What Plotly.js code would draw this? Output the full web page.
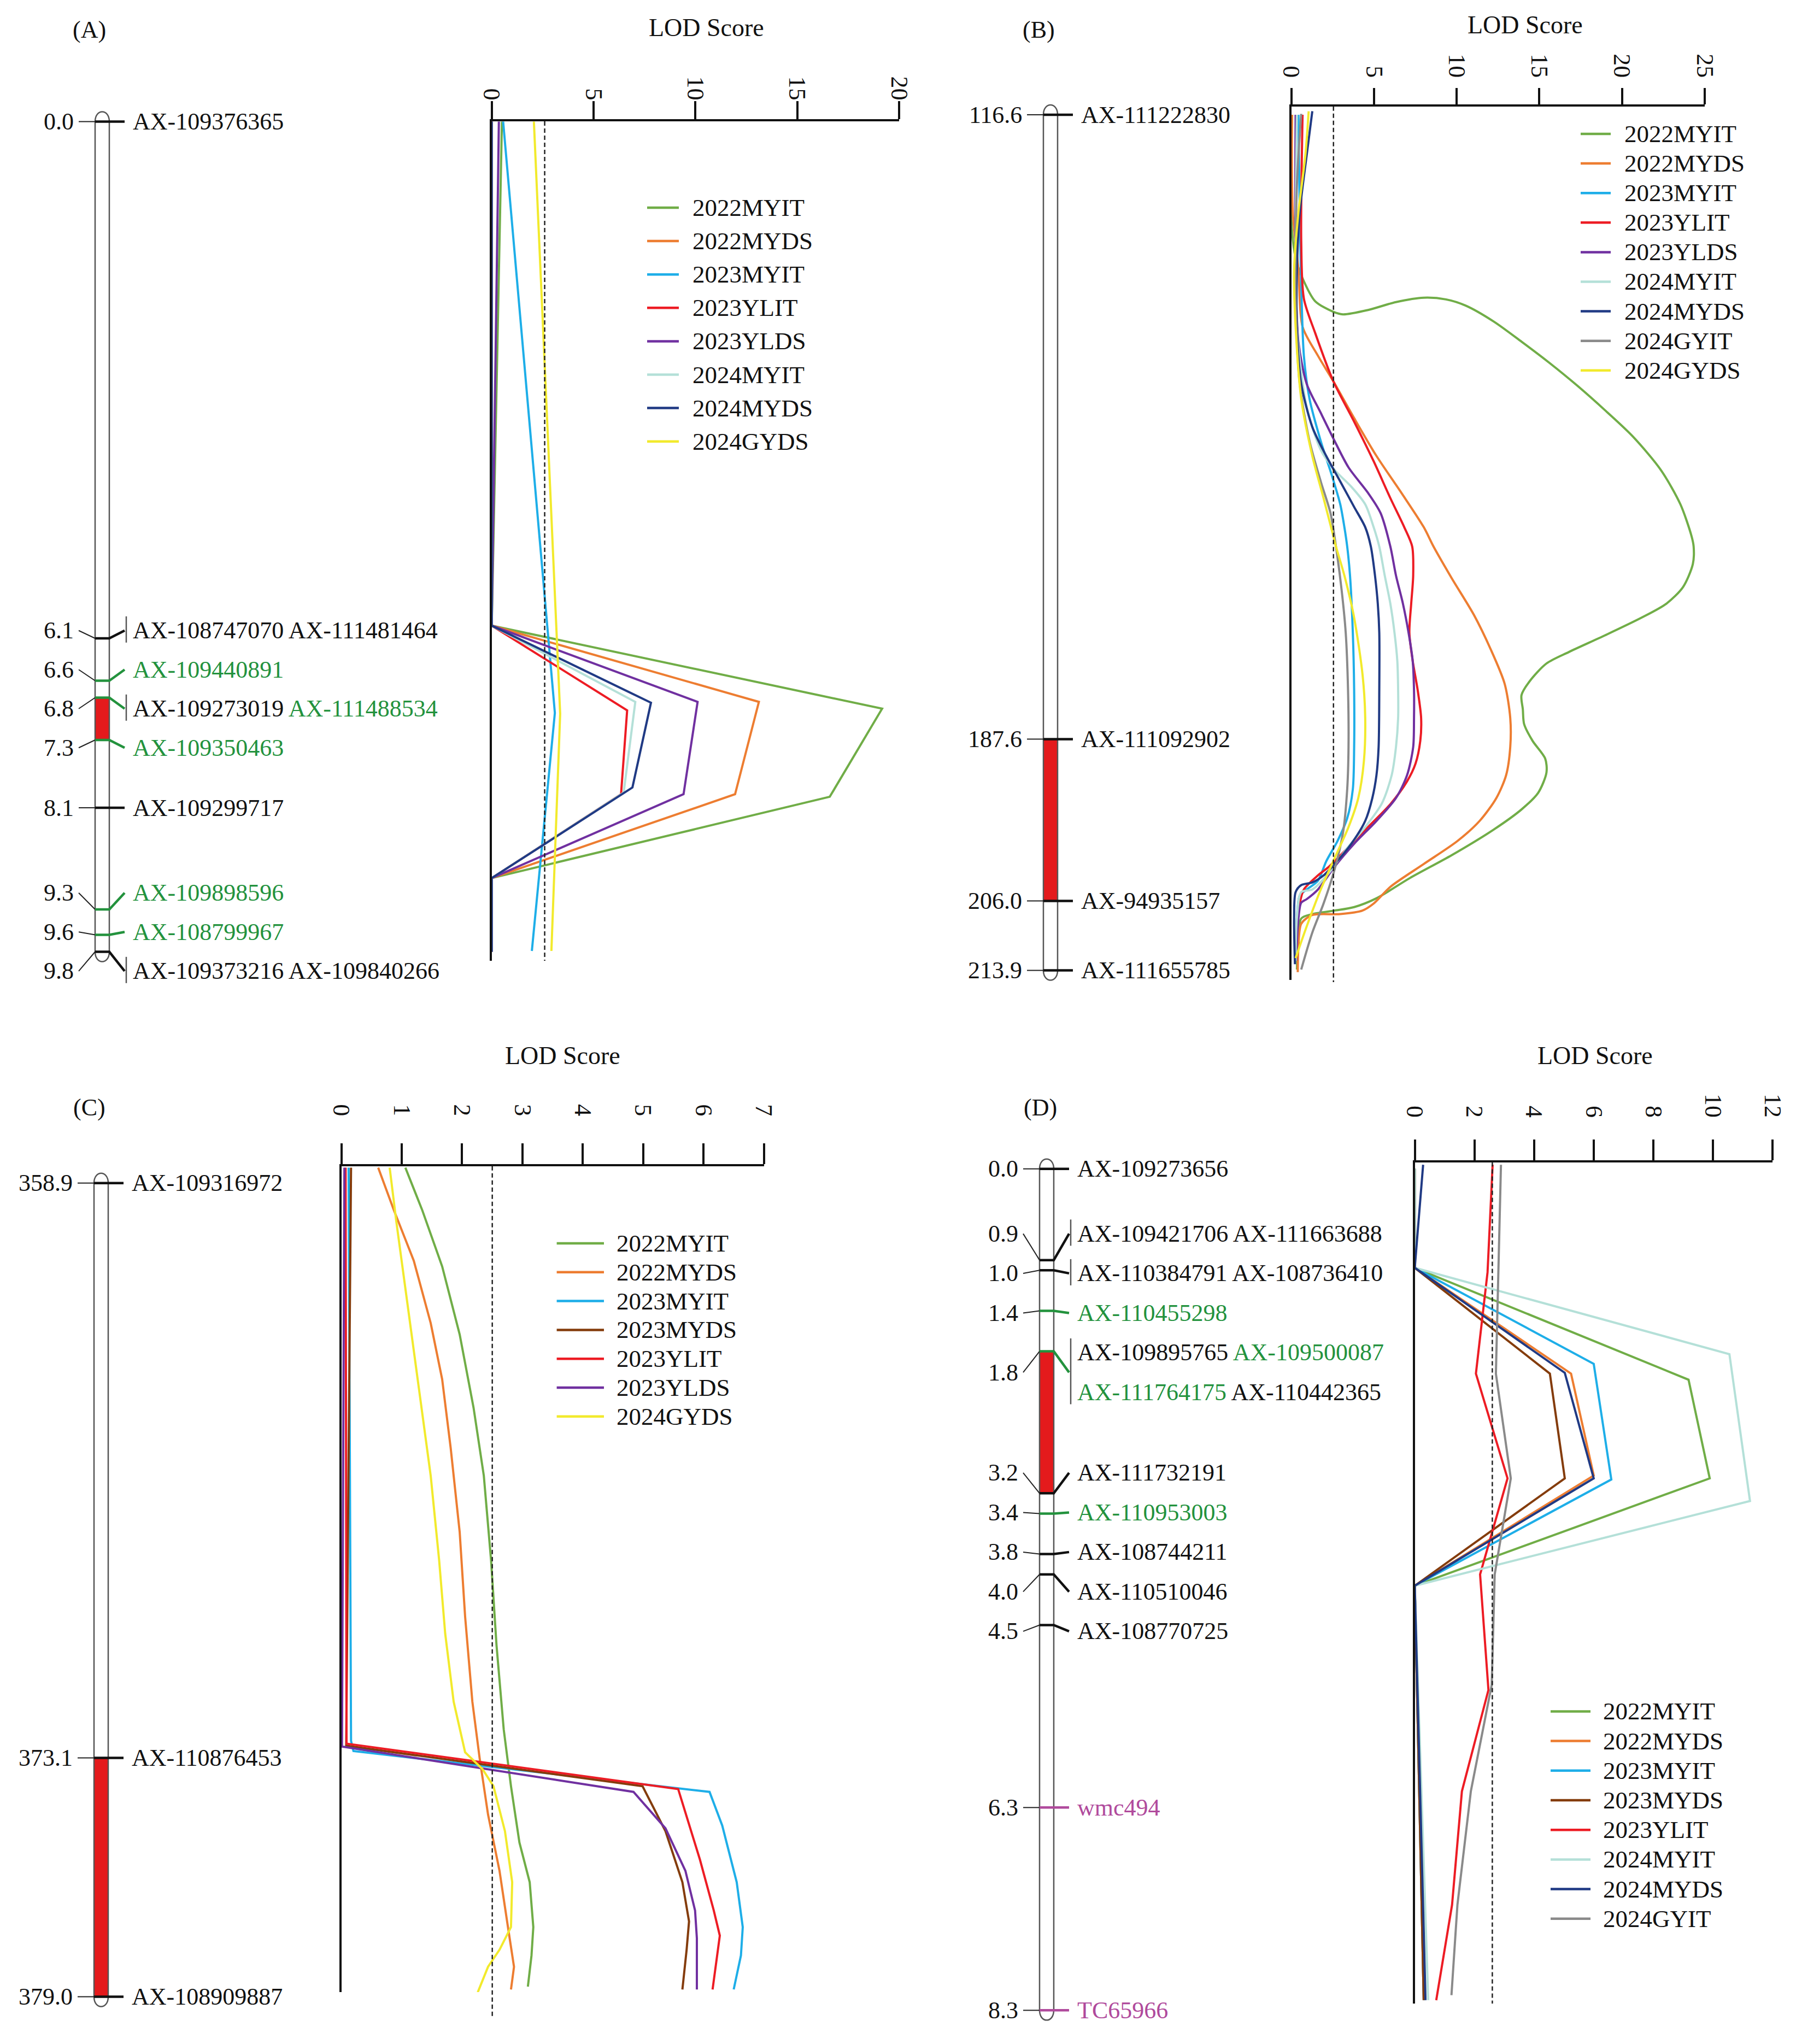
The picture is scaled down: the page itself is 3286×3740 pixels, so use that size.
<!DOCTYPE html>
<html><head><meta charset="utf-8">
<script src="https://cdn.plot.ly/plotly-3.0.1.min.js"></script>
<style>body{margin:0;background:#fff}</style>
</head><body><div id="chart" style="width:3286px;height:3740px"></div>
<script>
// ================= DATA =================
// Panel A
const A_series = ["2022MYIT","2022MYDS","2023MYIT","2023YLIT","2023YLDS","2024MYIT","2024MYDS","2024GYDS"];
const A_pos = [
 [0, 5.95, 6.93, 7.97, 8.93, 9.8],
 [0, 5.95, 6.85, 7.94, 8.93, 9.8],
 [0, 6.98, 9.79],
 [0, 5.95, 6.95, 7.94, 8.93, 9.8],
 [0, 5.95, 6.85, 7.94, 8.93, 9.8],
 [0, 5.95, 6.85, 7.92, 8.93, 9.8],
 [0, 5.95, 6.86, 7.86, 7.94, 8.93, 9.8],
 [0, 6.99, 9.79]];
const A_lod = [
 [0.5, 0, 19.17, 16.6, 0, 0],
 [0, 0, 13.12, 11.95, 0, 0],
 [0.56, 3.1, 1.97],
 [0, 0, 6.65, 6.35, 0, 0],
 [0.35, 0, 10.11, 9.42, 0, 0],
 [0, 0, 7.05, 6.48, 0, 0],
 [0, 0, 7.82, 6.91, 6.4, 0, 0],
 [2.07, 3.36, 2.93]];
const A_markerPos = [0.0, 6.1, 6.6, 6.8, 7.3, 8.1, 9.3, 9.6, 9.8];
const A_markerNames = [["AX-109376365"],["AX-108747070","AX-111481464"],["AX-109440891"],["AX-109273019","AX-111488534"],["AX-109350463"],["AX-109299717"],["AX-109898596"],["AX-108799967"],["AX-109373216","AX-109840266"]];
const A_markerType = [["k"],["k","k"],["g"],["k","g"],["g"],["k"],["g"],["g"],["k","k"]];
const A_qtl = [6.8, 7.3];

// Panel B
const B_series = ["2022MYIT","2022MYDS","2023MYIT","2023YLIT","2023YLDS","2024MYIT","2024MYDS","2024GYIT","2024GYDS"];
const B_pos = [
 [116.6,128.4,132.9,135.2,137.8,139.0,139.3,138.8,137.9,137.4,137.6,138.3,140.1,142.4,144.8,147.4,150.2,153.2,157.0,160.9,164.5,165.7,167.7,170.3,172.2,173.8,175.8,177.7,179.0,181.0,182.6,184.2,185.9,187.8,189.8,191.4,193.7,195.6,197.9,200.8,203.4,205.7,206.7,207.1,207.5,208.0,211.2,213.8],
 [116.6,127.7,134.2,140.7,144.0,146.9,151.1,155.4,159.6,163.5,165.7,169.3,173.5,177.4,181.3,185.2,188.5,191.7,194.3,196.9,199.2,201.8,204.4,206.3,207.1,207.5,207.6,208.6,211.2,214.1],
 [116.6,127.7,135.9,144.0,148.9,153.7,157.6,160.9,163.5,165.7,169.0,175.5,182.0,188.5,193.3,196.6,199.2,201.5,203.7,204.7,205.4,208.0,212.8],
 [116.6,131.0,137.5,141.4,146.9,151.5,156.0,160.2,163.5,165.7,169.0,172.2,175.5,178.7,182.0,185.2,187.8,190.4,192.4,195.0,197.6,200.2,202.1,203.1,204.7,206.3,209.6,212.8],
 [116.6,134.2,142.4,147.2,150.5,153.4,156.7,159.6,161.9,165.7,169.0,172.2,175.5,178.7,182.0,185.2,188.5,191.7,194.3,196.9,199.5,202.1,204.7,205.8,206.2,208.0,212.8],
 [116.6,140.7,149.8,154.7,157.0,158.9,160.9,163.5,165.7,169.0,172.2,175.5,178.7,182.0,185.2,188.5,191.7,194.9,197.6,200.2,202.8,204.7,205.0,207.9,212.8],
 [116.2,121.2,127.7,134.2,140.7,147.2,152.1,155.4,158.3,161.2,163.5,165.7,169.0,172.2,175.5,182.0,188.5,191.7,194.3,196.9,199.5,201.8,203.1,203.9,204.2,205.0,208.0,213.2],
 [116.5,124.5,137.5,147.2,153.7,158.3,161.9,165.7,170.6,175.5,182.0,188.5,193.3,198.2,202.4,206.3,209.6,213.8],
 [116.2,121.2,127.7,134.2,140.7,148.9,155.4,160.2,164.5,165.7,169.0,173.8,180.3,185.2,190.1,194.3,197.6,200.8,204.7,208.9,212.5]];
const B_lod = [
 [0.05,0,0.26,0.68,1.44,2.53,3.12,4.64,6.33,8.01,9.36,10.54,12.23,13.92,15.6,17.29,18.97,20.66,22.35,23.53,24.2,24.33,24.28,23.69,22.68,21.17,18.97,16.78,15.43,14.42,13.92,14.0,14.08,14.59,15.35,15.43,14.93,13.92,12.23,9.7,7.17,5.15,3.8,2.62,1.27,0.6,0.39,0.34],
 [0.04,0.09,0.43,0.68,1.61,2.54,3.8,5.15,6.66,8.01,8.6,9.7,11.05,12.06,12.9,13.24,13.24,12.99,12.4,11.39,10.04,8.01,5.99,4.98,4.3,2.96,1.27,0.6,0.43,0.39],
 [0.43,0.51,0.6,0.76,1.1,1.78,2.45,2.96,3.21,3.38,3.55,3.72,3.8,3.8,3.72,3.38,2.79,2.11,1.61,0.93,0.51,0.34,0.26],
 [0.68,0.6,0.76,1.44,2.54,3.8,4.98,5.99,6.83,7.31,7.37,7.25,7.14,7.34,7.64,7.85,7.8,7.51,7.0,5.99,4.64,3.29,2.28,1.61,0.76,0.51,0.34,0.29],
 [0.26,0.26,0.43,0.93,1.78,2.54,3.46,4.64,5.4,5.99,6.33,6.75,7.09,7.34,7.42,7.42,7.37,7.0,6.33,5.15,3.8,2.62,1.61,0.93,0.6,0.43,0.29],
 [0.34,0.34,0.93,1.78,2.62,3.63,4.47,4.98,5.32,5.65,5.99,6.24,6.41,6.46,6.46,6.33,6.07,5.48,4.47,3.29,2.28,1.27,0.6,0.34,0.26],
 [1.27,0.93,0.51,0.34,0.34,0.6,1.27,2.11,2.96,3.8,4.47,4.81,5.06,5.23,5.32,5.32,5.28,5.15,4.9,4.47,3.63,2.62,1.95,1.27,0.6,0.26,0.17,0.22],
 [0.6,0.34,0.26,0.51,1.1,1.78,2.37,2.7,3.04,3.29,3.43,3.46,3.38,3.13,2.62,1.95,1.27,0.6],
 [1.05,0.85,0.43,0.17,0.26,0.6,1.27,1.95,2.54,2.7,3.21,3.8,4.31,4.47,4.39,4.05,3.46,2.7,1.78,0.93,0.26]];
const B_markerPos = [116.6, 187.6, 206.0, 213.9];
const B_markerNames = [["AX-111222830"],["AX-111092902"],["AX-94935157"],["AX-111655785"]];
const B_markerType = [["k"],["k"],["k"],["k"]];
const B_qtl = [187.6, 206.0];

// Panel C
const C_series = ["2022MYIT","2022MYDS","2023MYIT","2023MYDS","2023YLIT","2023YLDS","2024GYDS"];
const C_pos = [
 [358.52,359.57,360.96,362.64,364.45,366.13,368.22,370.31,372.4,373.8,375.19,376.17,377.28,377.98,378.75],
 [358.52,359.57,360.82,362.36,363.75,365.43,367.52,369.61,371.71,373.1,374.5,375.89,377.28,378.26,378.82],
 [358.52,372.68,372.93,373.94,374.77,376.17,377.28,377.98,378.82],
 [358.52,372.8,373.8,374.91,376.17,377.14,377.84,378.82],
 [358.52,372.75,373.87,375.61,376.87,377.49,378.82],
 [358.52,372.82,373.94,374.84,375.89,376.87,377.56,378.82],
 [358.52,359.85,361.94,364.03,366.13,368.22,370.03,371.71,372.96,373.38,373.8,374.91,376.17,377.28,377.84,378.26,378.89]];
const C_lod = [
 [1.06,1.34,1.67,1.96,2.19,2.36,2.48,2.57,2.69,2.81,2.95,3.12,3.18,3.15,3.09],
 [0.61,0.87,1.2,1.48,1.67,1.81,1.96,2.05,2.17,2.29,2.43,2.62,2.76,2.86,2.81],
 [0.12,0.16,0.2,6.1,6.31,6.55,6.65,6.62,6.5],
 [0.16,0.08,4.99,5.37,5.65,5.76,5.72,5.65],
 [0.07,0.085,5.58,5.94,6.17,6.27,6.15],
 [0.05,0.01,4.84,5.37,5.7,5.86,5.89,5.89],
 [0.8,0.91,1.1,1.29,1.48,1.62,1.72,1.86,2.05,2.34,2.52,2.71,2.83,2.81,2.62,2.43,2.26]];
const C_markerPos = [358.9, 373.1, 379.0];
const C_markerNames = [["AX-109316972"],["AX-110876453"],["AX-108909887"]];
const C_markerType = [["k"],["k"],["k"]];
const C_qtl = [373.1, 379.0];

// Panel D
const D_series = ["2022MYIT","2022MYDS","2023MYIT","2023MYDS","2023YLIT","2024MYIT","2024MYDS","2024GYIT"];
const D_pos = [
 [0, 0.976, 2.08, 3.053, 4.112, 8.2],
 [0, 0.976, 2.02, 3.025, 4.112, 8.2],
 [0, 0.976, 1.923, 3.064, 4.112, 8.2],
 [0, 0.976, 2.02, 3.053, 4.112, 8.2],
 [-0.04, 1.02, 2.02, 3.053, 4.0, 5.14, 6.14, 7.26, 8.2],
 [0, 0.976, 1.828, 3.276, 4.112, 8.2],
 [-0.04, 0.976, 2.012, 3.053, 4.112, 8.2],
 [-0.04, 1.02, 2.02, 3.053, 4.0, 5.09, 6.14, 7.26, 8.15]];
const D_lod = [
 [0, 0, 9.18, 9.89, 0, 0.32],
 [0, 0, 5.24, 6.0, 0, 0.3],
 [0, 0, 6.0, 6.59, 0, 0.3],
 [0, 0, 4.53, 5.03, 0, 0.3],
 [2.61, 2.44, 2.05, 3.11, 2.19, 2.47, 1.58, 1.25, 0.72],
 [0, 0, 10.55, 11.24, 0, 0.45],
 [0.28, 0, 5.03, 6.0, 0, 0.36],
 [2.89, 2.8, 2.72, 3.22, 2.68, 2.58, 1.88, 1.43, 1.23]];
const D_markerPos = [0.0, 0.9, 1.0, 1.4, 1.8, 3.2, 3.4, 3.8, 4.0, 4.5, 6.3, 8.3];
const D_markerNames = [["AX-109273656"],["AX-109421706","AX-111663688"],["AX-110384791","AX-108736410"],["AX-110455298"],["AX-109895765","AX-109500087","AX-111764175","AX-110442365"],["AX-111732191"],["AX-110953003"],["AX-108744211"],["AX-110510046"],["AX-108770725"],["wmc494"],["TC65966"]];
const D_markerType = [["k"],["k","k"],["k","k"],["g"],["k","g","g","k"],["k"],["g"],["k"],["k"],["k"],["m"],["m"]];
const D_qtl = [1.8, 3.2];

const LOD_thresholds = [2.6, 2.55, 2.5, 2.6];
const LOD_max = [20, 25, 7, 12];
const LOD_dtick = [5, 5, 1, 2];
const panelLetters = ["(A)","(B)","(C)","(D)"];

// ================= STYLE =================
const seriesColor = {"2022MYIT":"#70ad47","2022MYDS":"#ed7d31","2023MYIT":"#1eaee8","2023MYDS":"#843c0c",
 "2023YLIT":"#ed1c24","2023YLDS":"#7030a0","2024MYIT":"#b4e0d8","2024MYDS":"#203a84","2024GYIT":"#8a8a8a","2024GYDS":"#f2ea2c"};
const typeColor = {k:"#111111", g:"#23923d", m:"#b04a9c"};
const FONT = "Liberation Serif, Times New Roman, serif";
const W = 3286, H = 3740;
const px2x = p => p / W, px2y = p => 1 - p / H;

const geoms = [
 {lodX:[899.7,1644.8], lodY:[222,1758], cmRef:[0,222.5], ppc:155, barL:174, chromX:[30,885], chromY:[140,1840], gap:71.5, tickLen:33, standoff:-14, dashBottom:1758, leg:{x0:1184,x1:1242,tx:1265,y0:380,dy:61.1}, title:[1292,50], letter:[163,55], spline:false},
 {lodX:[2362.6,3119], lodY:[194.7,1793.3], cmRef:[116.6,210], ppc:16.09, barL:1909, chromX:[1690,2350], chromY:[140,1840], gap:72, tickLen:30, standoff:3, dashBottom:1797, leg:{x0:2892,x1:2947,tx:2970,y0:245,dy:54.1}, title:[2790,45], letter:[1900,55], spline:true},
 {lodX:[624.6,1397.6], lodY:[2133.7,3645], cmRef:[358.9,2164.7], ppc:74.07, barL:172, chromX:[20,612], chromY:[2080,3725], gap:72, tickLen:38, standoff:34, dashBottom:3692, leg:{x0:1018.6,x1:1105,tx:1126,y0:2275,dy:52.8}, title:[1029,1931], letter:[163,2026], spline:false},
 {lodX:[2588.5,3243.3], lodY:[2126.5,3666], cmRef:[0,2138.7], ppc:185.5, barL:1902, chromX:[1760,2578], chromY:[2080,3725], gap:72.5, tickLen:38, standoff:24, dashBottom:3666, leg:{x0:2837,x1:2910,tx:2931,y0:3131.4,dy:54.2}, title:[2918,1931], letter:[1903,2026], spline:false}
];

const panels = [
 {series:A_series, pos:A_pos, lod:A_lod, mPos:A_markerPos, mNames:A_markerNames, mType:A_markerType, qtl:A_qtl},
 {series:B_series, pos:B_pos, lod:B_lod, mPos:B_markerPos, mNames:B_markerNames, mType:B_markerType, qtl:B_qtl},
 {series:C_series, pos:C_pos, lod:C_lod, mPos:C_markerPos, mNames:C_markerNames, mType:C_markerType, qtl:C_qtl},
 {series:D_series, pos:D_pos, lod:D_lod, mPos:D_markerPos, mNames:D_markerNames, mType:D_markerType, qtl:D_qtl}
];

const traces = [], shapes = [], annotations = [];
const layout = {width:W, height:H, margin:{l:0,r:0,t:0,b:0}, paper_bgcolor:"#fff", plot_bgcolor:"rgba(0,0,0,0)",
  showlegend:false, font:{family:FONT, size:44, color:"#111"}};

// label spreading (MapChart-like): clusters centred on the mean of marker positions
function spreadLabels(ps, hs) {
  let clusters = ps.map((p,i)=>[i]);
  const lay = c => {
    let acc = 0; const offs = [];
    c.forEach(i => { offs.push(acc + hs[i]/2); acc += hs[i]; });
    const mp = c.reduce((s,i)=>s+ps[i],0)/c.length;
    const mo = offs.reduce((s,o)=>s+o,0)/offs.length;
    const top = mp - mo;
    return {top, bottom: top+acc, offs};
  };
  let merged = true;
  while (merged) {
    merged = false;
    for (let k=0;k<clusters.length-1;k++) {
      if (lay(clusters[k]).bottom > lay(clusters[k+1]).top) {
        clusters.splice(k, 2, clusters[k].concat(clusters[k+1])); merged = true; break;
      }
    }
  }
  const tops = new Array(ps.length);
  clusters.forEach(c => { const L = lay(c); c.forEach((i,j)=>{ tops[i] = L.top + L.offs[j] - hs[i]/2; }); });
  return tops;
}

panels.forEach((P, n) => {
  const G = geoms[n];
  const ax = n+1, cx = n+5;
  const xa = ax===1 ? "xaxis" : "xaxis"+ax, ya = ax===1 ? "yaxis" : "yaxis"+ax;
  const cmAt = px => G.cmRef[0] + (px - G.cmRef[1]) / G.ppc;
  const pxAt = cm => G.cmRef[1] + (cm - G.cmRef[0]) * G.ppc;

  // ---- LOD axes
  layout[xa] = {domain:[px2x(G.lodX[0]), px2x(G.lodX[1])], range:[0, LOD_max[n]], side:"top", anchor:"y"+ax,
    tickmode:"linear", tick0:0, dtick:LOD_dtick[n], ticks:"outside", ticklen:G.tickLen, tickwidth:4, tickcolor:"#111",
    showline:true, linewidth:4, linecolor:"#111", tickangle:90, ticklabelstandoff:G.standoff,
    tickfont:{family:FONT, size:44, color:"#111"}, showgrid:false, zeroline:false, fixedrange:true};
  layout[ya] = {domain:[px2y(G.lodY[1]), px2y(G.lodY[0])], range:[cmAt(G.lodY[1]), cmAt(G.lodY[0])], anchor:"x"+ax,
    showline:true, linewidth:4, linecolor:"#111", showticklabels:false, ticks:"", showgrid:false, zeroline:false, fixedrange:true};

  P.series.forEach((s, j) => {
    traces.push({type:"scatter", mode:"lines", name:s, x:P.lod[j], y:P.pos[j], xaxis:"x"+ax, yaxis:"y"+ax,
      line:{color:seriesColor[s], width:4, shape:G.spline?"spline":"linear", smoothing:0.8}, hoverinfo:"skip", showlegend:false});
    // manual legend entry
    const yy = G.leg.y0 + j*G.leg.dy;
    shapes.push({type:"line", xref:"paper", yref:"paper", x0:px2x(G.leg.x0), x1:px2x(G.leg.x1), y0:px2y(yy), y1:px2y(yy),
      line:{color:seriesColor[s], width:4.5}});
    annotations.push({xref:"paper", yref:"paper", x:px2x(G.leg.tx), y:px2y(yy), text:s, showarrow:false,
      xanchor:"left", yanchor:"middle", font:{family:FONT, size:45, color:"#111"}});
  });

  // threshold dashed line
  shapes.push({type:"line", xref:"x"+ax, yref:"paper", x0:LOD_thresholds[n], x1:LOD_thresholds[n],
    y0:px2y(G.lodY[0]), y1:px2y(G.dashBottom), line:{color:"#222", width:2.5, dash:"8px,5px"}});

  annotations.push({xref:"paper", yref:"paper", x:px2x(G.title[0]), y:px2y(G.title[1]), text:"LOD Score", showarrow:false,
    xanchor:"center", yanchor:"middle", font:{family:FONT, size:46, color:"#111"}});
  annotations.push({xref:"paper", yref:"paper", x:px2x(G.letter[0]), y:px2y(G.letter[1]), text:panelLetters[n], showarrow:false,
    xanchor:"center", yanchor:"middle", font:{family:FONT, size:44, color:"#111"}});

  // ---- chromosome axes
  const cxa = "xaxis"+cx, cya = "yaxis"+cx;
  layout[cxa] = {domain:[px2x(G.chromX[0]), px2x(G.chromX[1])], range:[G.chromX[0], G.chromX[1]], visible:false, anchor:"y"+cx, fixedrange:true};
  layout[cya] = {domain:[px2y(G.chromY[1]), px2y(G.chromY[0])], range:[cmAt(G.chromY[1]), cmAt(G.chromY[0])], visible:false, anchor:"x"+cx, fixedrange:true};
  traces.push({type:"scatter", mode:"markers", x:[], y:[], xaxis:"x"+cx, yaxis:"y"+cx, showlegend:false, hoverinfo:"skip"});

  const xl = G.barL, xr = G.barL + 26;
  const top = P.mPos[0], bot = P.mPos[P.mPos.length-1];
  const k = 24 / G.ppc;
  const body = `M ${xl},${top} L ${xl},${bot} C ${xl},${bot+k} ${xr},${bot+k} ${xr},${bot} L ${xr},${top} C ${xr},${top-k} ${xl},${top-k} ${xl},${top} Z`;
  const cref = {xref:"x"+cx, yref:"y"+cx};
  shapes.push(Object.assign({type:"path", path:body, fillcolor:"#ffffff", line:{width:0}}, cref));
  shapes.push(Object.assign({type:"rect", x0:xl, x1:xr, y0:P.qtl[0], y1:P.qtl[1], fillcolor:"#e41a1c", line:{width:0}}, cref));
  shapes.push(Object.assign({type:"path", path:body, fillcolor:"rgba(0,0,0,0)", line:{color:"#555", width:2.5}}, cref));

  // labels
  const lines = P.mNames.map(a => Math.ceil(a.length/2));
  const hs = lines.map(l => l*G.gap);
  const tops = spreadLabels(P.mPos.map(pxAt), hs);
  P.mPos.forEach((pos, i) => {
    const types = P.mType[i];
    const col = types.includes("g") ? typeColor.g : (types.includes("m") ? typeColor.m : typeColor.k);
    const centerPx = tops[i] + hs[i]/2;
    const lab = cmAt(centerPx);
    shapes.push(Object.assign({type:"path", path:`M ${xl-30},${lab} L ${xl},${pos}`, line:{color:"#222", width:2}}, cref));
    shapes.push(Object.assign({type:"path", path:`M ${xl},${pos} L ${xr},${pos} L ${xr+28},${lab}`, line:{color:col, width:4.5}}, cref));
    annotations.push(Object.assign({x:xl-37, y:lab, text:pos.toFixed(1), showarrow:false, xanchor:"right", yanchor:"middle",
      font:{family:FONT, size:44, color:"#111"}}, cref));
    const firstLine = tops[i] + G.gap/2, lastLine = tops[i] + (lines[i]-0.5)*G.gap;
    if (P.mNames[i].length > 1) {
      shapes.push(Object.assign({type:"line", x0:xr+31, x1:xr+31, y0:cmAt(firstLine-26), y1:cmAt(lastLine+22), line:{color:"#555", width:2.5}}, cref));
    }
    for (let l=0; l<lines[i]; l++) {
      const parts = [];
      for (let q=l*2; q<Math.min(l*2+2, P.mNames[i].length); q++) {
        parts.push(`<span style="color:${typeColor[types[q]]}">${P.mNames[i][q]}</span>`);
      }
      annotations.push(Object.assign({x:xr+41, y:cmAt(tops[i] + (l+0.5)*G.gap), text:parts.join(" "), showarrow:false,
        xanchor:"left", yanchor:"middle", font:{family:FONT, size:44, color:"#111"}}, cref));
    }
  });
});

layout.shapes = shapes;
layout.annotations = annotations;
Plotly.newPlot("chart", traces, layout, {displayModeBar:false, staticPlot:true});
</script></body></html>
